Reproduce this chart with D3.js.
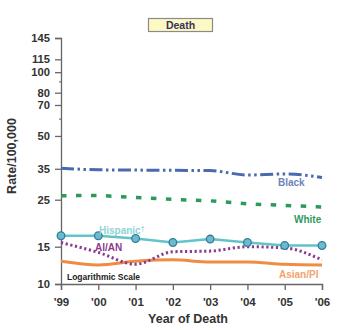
<!DOCTYPE html>
<html><head><meta charset="utf-8">
<script src="https://cdn.jsdelivr.net/npm/d3@7"></script>
<style>
html,body{margin:0;padding:0;background:#fff;}
svg{display:block;font-family:"Liberation Sans",Arial,sans-serif;}
</style></head>
<body><svg id="c" width="363" height="330"></svg>
<script>
const years = ["'99","'00","'01","'02","'03","'04","'05","'06"];
const black    = [35.2, 34.6, 34.5, 34.4, 34.3, 32.7, 33.1, 31.8];
const white    = [26.1, 26.2, 25.6, 25.1, 24.7, 23.9, 23.5, 23.1];
const hispanic = [16.9, 16.9, 16.4, 15.7, 16.3, 15.7, 15.2, 15.2];
const aian     = [15.7, 14.1, 12.4, 14.2, 14.3, 15.0, 14.8, 13.0];
const asianpi  = [12.8, 12.3, 12.8, 13.0, 12.7, 12.7, 12.4, 12.3];
const yTicks = [10, 15, 25, 35, 50, 70, 80, 100, 115, 145];
const yMinor = [60, 90];

const svg = d3.select("#c");
const x = d3.scalePoint().domain(years).range([61, 322]);
const y = d3.scaleLog().domain([10, 145]).range([284, 38]);

// title box
const tg = svg.append("g");
tg.append("rect").attr("x",148.5).attr("y",18.5).attr("width",64).attr("height",13)
  .attr("fill","#fdf9c4").attr("stroke","#8a8a8a").attr("stroke-width",1.2);
tg.append("text").attr("x",180.5).attr("y",28.5).attr("text-anchor","middle")
  .attr("font-size",10.5).attr("font-weight","bold").attr("fill","#35335e").text("Death");

// axes
const yAxis = svg.append("g").attr("transform","translate(61,0)")
  .call(d3.axisLeft(y).tickValues(yTicks).tickFormat(d3.format("d")).tickSize(6).tickPadding(5));
const xAxis = svg.append("g").attr("transform","translate(0,284)")
  .call(d3.axisBottom(x).tickSize(6).tickPadding(8));
[yAxis, xAxis].forEach(a => {
  a.select(".domain").attr("stroke","#666").attr("stroke-width",1.3);
  a.selectAll(".tick line").attr("stroke","#666").attr("stroke-width",1.3);
  a.selectAll("text").attr("font-weight","bold").attr("fill","#333");
});
yAxis.selectAll("text").attr("font-size",11.2);
xAxis.selectAll("text").attr("font-size",11.5);
svg.append("g").selectAll("line").data(yMinor).join("line")
  .attr("x1",59).attr("x2",61).attr("y1",d=>y(d)).attr("y2",d=>y(d))
  .attr("stroke","#777").attr("stroke-width",1.2);

// axis titles
svg.append("text").attr("transform","translate(15.5,156) rotate(-90)").attr("text-anchor","middle")
  .attr("font-size",12.5).attr("font-weight","bold").attr("fill","#333").text("Rate/100,000");
svg.append("text").attr("x",188).attr("y",322.5).attr("text-anchor","middle")
  .attr("font-size",12.5).attr("font-weight","bold").attr("fill","#333").text("Year of Death");

const lin = d3.line().x((d,i)=>x(years[i])).y(d=>y(d));
const smooth = d3.line().x((d,i)=>x(years[i])).y(d=>y(d)).curve(d3.curveMonotoneX);

// series
svg.append("path").datum(asianpi).attr("d",smooth).attr("fill","none")
  .attr("stroke","#ef8c44").attr("stroke-width",3);
svg.append("path").datum(aian).attr("d",smooth).attr("fill","none")
  .attr("stroke","#8b3a8e").attr("stroke-width",3).attr("stroke-dasharray","2.2,2.6");
svg.append("path").datum(hispanic).attr("d",lin).attr("fill","none")
  .attr("stroke","#62c3c9").attr("stroke-width",2.6);
svg.append("g").selectAll("circle").data(hispanic).join("circle")
  .attr("cx",(d,i)=>x(years[i])).attr("cy",d=>y(d)).attr("r",3.8)
  .attr("fill","#6fb9cc").attr("stroke","#2f7d9c").attr("stroke-width",1.3);
svg.append("path").datum(white).attr("d",lin).attr("fill","none")
  .attr("stroke","#2c9a5c").attr("stroke-width",3.5).attr("stroke-dasharray","5.5,9.5");
svg.append("path").datum(black).attr("d",smooth).attr("fill","none")
  .attr("stroke","#4b69b0").attr("stroke-width",3).attr("stroke-dasharray","13,3.5,2.5,3.5,2.5,3.5");

// labels
const lab = (t,xx,yy,c,fs) => svg.append("text").attr("x",xx).attr("y",yy)
  .attr("font-size",fs||10).attr("font-weight","bold").attr("fill",c).text(t);
lab("Black",278,186,"#6b84b8");
lab("White",294,223,"#2f9a5e");
const h = lab("Hispanic",99,234,"#8fd4d4");
h.append("tspan").attr("font-size",7).attr("dy",-3).text("\u2020");
lab("AI/AN",95,251,"#8d3a90");
lab("Asian/PI",279,278,"#f2a46c");
svg.append("text").attr("x",67).attr("y",280).attr("font-size",8.5).attr("font-weight","bold")
  .attr("fill","#222").attr("textLength",73).attr("lengthAdjust","spacingAndGlyphs").text("Logarithmic Scale");
</script></body></html>
